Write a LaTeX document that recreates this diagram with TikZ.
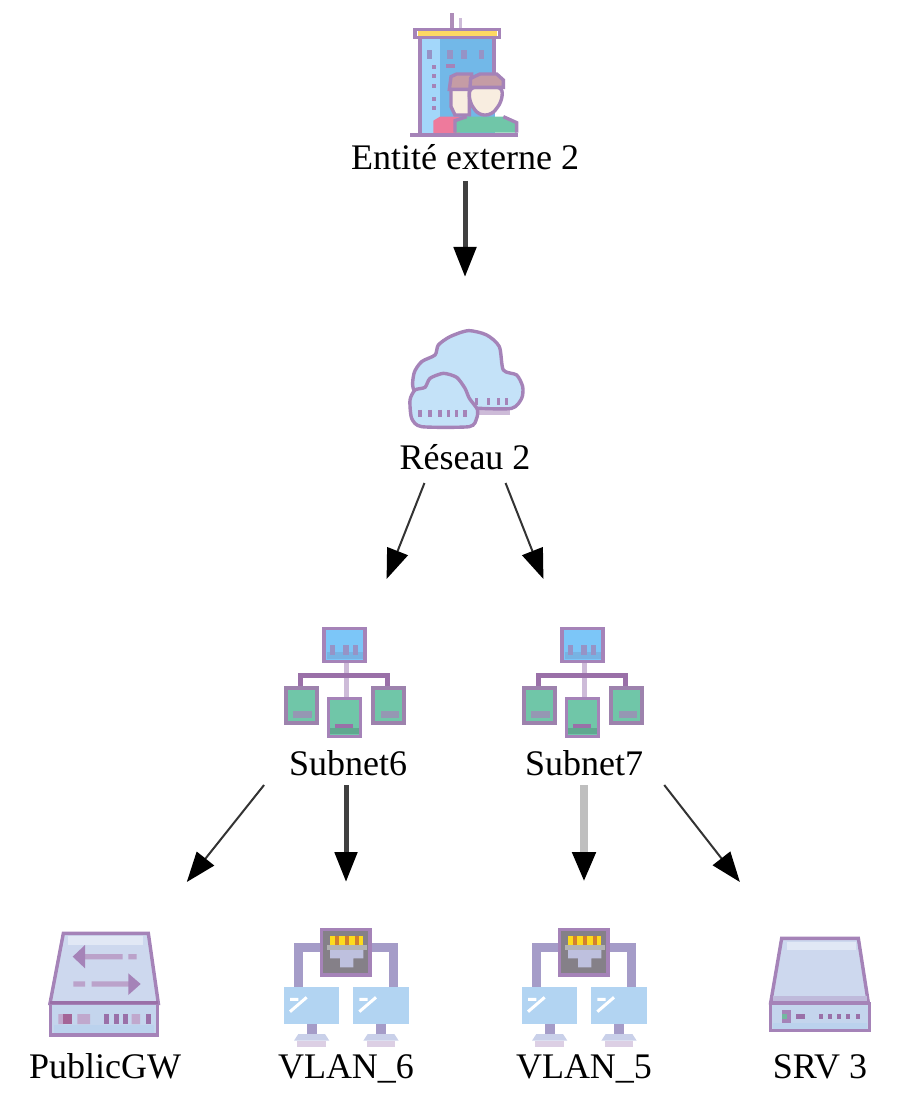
\documentclass[tikz,border=0pt]{standalone}
\usepackage{fontspec}
\setmainfont{Liberation Serif}
\usetikzlibrary{arrows.meta}
\definecolor{iconpurple}{HTML}{A583B8}
\definecolor{darkpurple}{HTML}{9A70A8}
\definecolor{palepurple}{HTML}{CDBBD8}
\definecolor{skyblue}{HTML}{7CC6F8}
\definecolor{cloudblue}{HTML}{C4E2F8}
\definecolor{steelblue}{HTML}{72B8E8}
\definecolor{panelblue}{HTML}{CDD8EE}
\definecolor{screenblue}{HTML}{B2D4F2}
\definecolor{mint}{HTML}{70C6A8}
\definecolor{hairrose}{HTML}{C59CA5}
\definecolor{skin}{HTML}{F8EDE0}
\definecolor{shirtpink}{HTML}{EE7A9C}
\definecolor{cablepurple}{HTML}{A59CC8}
\tikzset{
hostbox/.style={minimum width=85pt,minimum height=103pt,inner sep=0pt,outer sep=0pt},
hostlbl/.style={inner sep=0pt,anchor=base,font=\fontsize{18}{20}\selectfont},
thickedge/.style={line width=2.5pt,black!75,-{Triangle[length=15pt,width=11pt,color=black]}},
thinedge/.style={line width=1pt,black!80,-{Triangle[length=15pt,width=11pt,color=black]}},
greyedge/.style={line width=4pt,black!25,-{Triangle[length=15pt,width=11pt,color=black]}},
iconline/.style={draw=iconpurple,line width=1.7pt},
pics/usericon/.style={code={
\begin{scope}[scale=1/3,shift={(-375,-234)}]
\draw[darkpurple!80,line width=2pt] (337,40)--(337,85);
\draw[palepurple,line width=1.5pt] (362,55)--(362,85);
\fill[steelblue] (238,110) rectangle (465,400);
\fill[skyblue!70!white] (238,110) rectangle (300,400);
\foreach \xx in {268,330,372,425} \fill[iconpurple!70!steelblue] (\xx-8,150) rectangle (\xx+8,177);
\foreach \yy in {200,228,258,296,325} \fill[iconpurple] (275,\yy-6) rectangle (288,\yy+6);
\fill[iconpurple] (318,193) rectangle (345,205);
\draw[iconline] (240,110)--(240,405) (462,110)--(462,225);
\fill[yellow!55!orange!60!white] (233,92) rectangle (470,108);
\draw[iconline] (225,88) rectangle (478,112);
% back person
\fill[shirtpink] (280,400) -- (280,362) -- (300,350) -- (360,350) -- (360,400) -- cycle;
\draw[iconline,fill=skin] (333,265) -- (333,320) -- (345,345) -- (388,345) -- (388,265) -- cycle;
\draw[iconline,fill=hairrose] (328,268) -- (333,230) -- (350,222) -- (395,222) -- (395,268) -- cycle;
% front person
\fill[mint] (345,398) -- (345,362) -- (380,350) -- (490,350) -- (530,368) -- (530,398) -- cycle;
\draw[iconline] (345,398)--(345,362)--(380,350) (490,350)--(530,368)--(530,398);
\draw[iconline,fill=skin,rounded corners=3pt] (388,262) -- (388,305) -- (415,345) -- (455,345) -- (485,305) -- (488,262) -- cycle;
\draw[iconline,fill=hairrose] (390,262) -- (392,235) -- (420,222) -- (470,222) -- (490,240) -- (490,262) -- cycle;
\draw[iconline] (210,405)--(535,405);
\end{scope}
}},
pics/cloudicon/.style={code={
\begin{scope}[scale=1/3,shift={(-255,-210)}]
\fill[palepurple] (295,290) rectangle (390,315);
\draw[iconline,fill=cloudblue] plot[smooth cycle,tension=.45] coordinates {(105,245) (102,190) (125,155) (165,135) (175,105) (210,80) (265,62) (320,75) (358,110) (370,180) (410,195) (428,230) (425,265) (395,295) (295,295) (200,290)};
\foreach \xx in {290,325,355,380} \draw[iconpurple,line width=1.7pt] (\xx,265)--(\xx,285);
\draw[iconline,fill=cloudblue] plot[smooth cycle,tension=.4] coordinates {(90,270) (105,240) (135,232) (150,205) (190,190) (230,202) (255,235) (268,265) (292,298) (290,325) (268,350) (125,350) (95,325)};
\foreach \xx in {120,150,180,205,230,255} \draw[iconpurple,line width=1.7pt] (\xx,300)--(\xx,320);
\end{scope}
}},
pics/subneticon/.style={code={
\begin{scope}[scale=1/3,shift={(-228,-216)}]
\draw[palepurple,line width=2.5pt] (228,155)--(228,265);
\draw[darkpurple,line width=2.4pt] (92,235)--(92,197)--(352,197)--(352,235);
\draw[iconline,fill=skyblue] (162,55) rectangle (285,155);
\fill[steelblue!90!iconpurple] (170,125) rectangle (278,147);
\foreach \xx in {187,228,257} \fill[iconpurple!70!steelblue] (\xx-8,105) rectangle (\xx+8,135);
\foreach \xx in {0,263} {
\draw[draw=iconpurple!80!gray,line width=1.9pt,fill=mint] (\xx+47,235) rectangle (\xx+140,340);
\fill[iconpurple!70!mint] (\xx+70,302) rectangle (\xx+125,325);
}
\draw[iconline,fill=mint] (175,265) rectangle (272,380);
\fill[mint!85!black] (180,355) rectangle (268,372);
\fill[darkpurple] (195,342) rectangle (248,354);
\end{scope}
}},
pics/gatewayicon/.style={code={
\begin{scope}[scale=1/3,shift={(-255,-225)}]
\draw[iconline,fill=panelblue] (130,70)--(385,70)--(415,280)--(90,280)--cycle;
\fill[panelblue!60!white] (145,78) rectangle (370,105);
\draw[iconline,fill=panelblue!90!steelblue] (92,280) rectangle (412,375);
\fill[steelblue!20!panelblue] (102,345) rectangle (402,368);
\draw[darkpurple,line width=1.8pt] (90,278)--(415,278);
\fill[iconpurple!75!white] (195,132) rectangle (308,148) (325,132) rectangle (350,148);
\fill[iconpurple] (158,140)--(195,105)--(195,175)--cycle;
\fill[iconpurple!75!white] (215,214) rectangle (330,230) (160,214) rectangle (195,230);
\fill[iconpurple] (362,222)--(325,190)--(325,255)--cycle;
\fill[iconpurple!70!white] (115,312) rectangle (130,342) (172,312) rectangle (210,342) (335,312) rectangle (360,342);
\fill[darkpurple!90!red] (130,312) rectangle (155,342);
\foreach \xx in {252,283,310,378} \fill[darkpurple] (\xx,312) rectangle (\xx+14,342);
\end{scope}
}},
pics/vlanicon/.style={code={
\begin{scope}[scale=1/3,shift={(-228,-225)}]
\draw[cablepurple,line width=4.5pt] (155,112)--(85,112)--(85,232);
\draw[cablepurple,line width=4.5pt] (300,112)--(370,112)--(370,232);
\draw[iconline,fill=gray!85!iconpurple] (155,58) rectangle (300,195);
\fill[yellow!75!orange!90!white] (180,78) rectangle (280,105);
\foreach \xx in {195,225,255} \fill[brown!70!orange] (\xx,78) rectangle (\xx+12,105);
\fill[gray!60!white] (170,105) rectangle (290,120);
\fill[steelblue!35!iconpurple!60!white] (180,120)--(280,120)--(280,145)--(250,145)--(250,172)--(210,172)--(210,145)--(180,145)--cycle;
\foreach \xx in {0,208} {
\fill[screenblue] (\xx+42,232) rectangle (\xx+208,342);
\draw[white,line width=1.5pt] (\xx+60,305)--(\xx+110,262) (\xx+60,268)--(\xx+85,268);
\fill[cablepurple] (\xx+110,342) rectangle (\xx+140,372);
\fill[panelblue!90!iconpurple] (\xx+85,372)--(\xx+165,372)--(\xx+178,392)--(\xx+72,392)--cycle;
\fill[palepurple!70!white] (\xx+82,392) rectangle (\xx+168,410);
}
\end{scope}
}},
pics/servericon/.style={code={
\begin{scope}[scale=1/3,shift={(-210,-195)}]
\draw[iconline,fill=panelblue] (95,55)--(325,55)--(355,248)--(62,248)--cycle;
\fill[panelblue!60!white] (110,65) rectangle (318,90);
\fill[iconpurple!35!panelblue] (70,228) rectangle (350,242);
\draw[iconline,fill=panelblue!90!steelblue] (62,250) rectangle (358,332);
\fill[steelblue!20!panelblue] (70,310) rectangle (350,326);
\fill[iconpurple] (95,270) rectangle (122,310);
\fill[mint!80!gray] (97,282) rectangle (112,297);
\fill[darkpurple] (138,282) rectangle (165,297);
\foreach \xx in {207,235,262,288,318} \fill[darkpurple] (\xx,282) rectangle (\xx+12,297);
\end{scope}
}}
}
\begin{document}
\begin{tikzpicture}[x=0.5pt,y=-0.5pt]
\useasboundingbox (0,0) rectangle (897,1095);
\node[hostbox] (entite) at (465,78) {};
\node[hostbox] (reseau) at (465,380) {};
\node[hostbox] (subnet6) at (346,682) {};
\node[hostbox] (subnet7) at (584,682) {};
\node[hostbox] (publicgw) at (105,985) {};
\node[hostbox] (vlan6) at (346,985) {};
\node[hostbox] (vlan5) at (584,985) {};
\node[hostbox] (srv3) at (820,985) {};

\pic at (entite) {usericon};
\pic at (reseau) {cloudicon};
\pic at (subnet6) {subneticon};
\pic at (subnet7) {subneticon};
\pic at (publicgw) {gatewayicon};
\pic at (vlan6) {vlanicon};
\pic at (vlan5) {vlanicon};
\pic at (srv3) {servericon};

\node[hostlbl] (entitelbl) at (465,170) {Entité externe 2};
\node[hostlbl] (reseaulbl) at (465,470) {Réseau 2};
\node[hostlbl] (subnet6lbl) at (348,775) {Subnet6};
\node[hostlbl] (subnet7lbl) at (584,775) {Subnet7};
\node[hostlbl] (publicgwlbl) at (105,1078) {PublicGW};
\node[hostlbl] (vlan6lbl) at (346,1078) {VLAN\_6};
\node[hostlbl] (vlan5lbl) at (584,1078) {VLAN\_5};
\node[hostlbl] (srv3lbl) at (820,1078) {SRV 3};

\draw[thickedge] (entite)--(reseau);
\draw[thinedge] (reseau)--(subnet6);
\draw[thinedge] (reseau)--(subnet7);
\draw[thinedge] (subnet6)--(publicgw);
\draw[thickedge] (subnet6)--(vlan6);
\draw[greyedge] (subnet7)--(vlan5);
\draw[thinedge] (subnet7)--(srv3);
\end{tikzpicture}
\end{document}
